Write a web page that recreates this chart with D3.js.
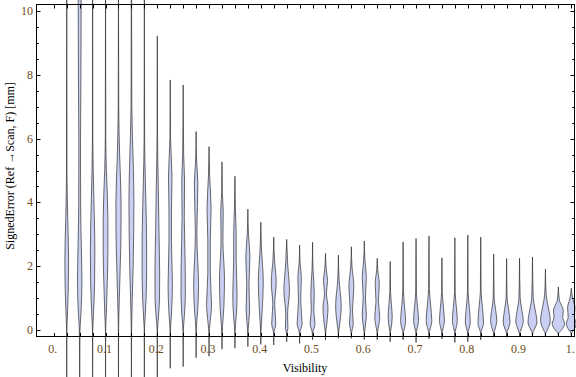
<!DOCTYPE html>
<html><head><meta charset="utf-8">
<script src="https://cdn.jsdelivr.net/npm/d3@7/dist/d3.min.js"></script>
<style>html,body{margin:0;padding:0;background:#fff;}svg{display:block;}</style>
</head><body><svg id="c" width="576" height="377"></svg>
<script>
// ---- data ----
const visibility = [0.025,0.05,0.075,0.1,0.125,0.15,0.175,0.2,0.225,0.25,
  0.275,0.3,0.325,0.35,0.375,0.4,0.425,0.45,0.475,0.5,
  0.525,0.55,0.575,0.6,0.625,0.65,0.675,0.7,0.725,0.75,
  0.775,0.8,0.825,0.85,0.875,0.9,0.925,0.95,0.975,1.0];
const maxError = [10.9,10.9,10.9,10.9,10.9,10.9,10.9,9.22,7.84,7.68,
  6.22,5.75,5.27,4.82,3.79,3.38,2.91,2.84,2.66,2.75,
  2.40,2.35,2.61,2.79,2.25,2.15,2.76,2.87,2.95,2.26,
  2.89,2.98,2.91,2.38,2.24,2.25,2.29,1.91,1.35,1.31];
const minError = [-1.6,-1.6,-1.6,-1.6,-1.6,-1.6,-1.6,-1.6,-1.2,-1.15,
  -0.87,-0.82,-0.6,-0.57,-0.52,-0.45,-0.47,-0.37,-0.42,-0.31,
  -0.31,-0.26,-0.26,-0.30,-0.31,-0.37,-0.31,-0.39,-0.28,-0.28,
  -0.39,-0.37,-0.31,-0.23,-0.23,-0.20,-0.20,-0.20,-0.18,-0.18];
// density profile knots [error, relative density] between max and min
const density = [
  [[5,0.03],[3.5,0.16],[2.2,0.3],[1.2,0.24],[0.3,0.08],[0,0.02]],
  [[10.9,0.25],[8,0.2],[6,0.14],[4,0.15],[2.5,0.28],[1.5,0.36],[0.5,0.2],[0,0.05]],
  [[6,0.03],[5,0.1],[3.5,0.28],[2.5,0.36],[1.5,0.32],[0.5,0.14],[0,0.02]],
  [[6,0.04],[5,0.14],[3.5,0.38],[2.5,0.38],[1.5,0.28],[0.5,0.12],[0,0.02]],
  [[7,0.04],[5.5,0.18],[4,0.42],[3,0.4],[2,0.28],[1,0.14],[0,0.02]],
  [[10.9,0.02],[7,0.06],[5,0.32],[4,0.4],[3,0.36],[2,0.28],[1,0.14],[0,0.03]],
  [[6,0.04],[4.5,0.18],[3,0.35],[2,0.37],[1,0.28],[0.3,0.1],[0,0.02]],
  [[6,0.04],[4.5,0.16],[3,0.28],[1.8,0.38],[1,0.36],[0.3,0.14],[0,0.03]],
  [[6,0.05],[4.8,0.28],[3.7,0.2],[2.8,0.2],[1.4,0.35],[0.5,0.2],[0,0.03]],
  [[5.5,0.08],[4.7,0.22],[3.5,0.18],[2,0.33],[1.1,0.35],[0.4,0.18],[0,0.03]],
  [[5.3,0.08],[4.6,0.28],[3.9,0.22],[3.0,0.12],[2.2,0.25],[1.4,0.4],[0.6,0.25],[0,0.03]],
  [[4.8,0.1],[3.8,0.33],[2.8,0.2],[1.8,0.2],[0.8,0.4],[0.2,0.15],[-0.1,0.02]],
  [[4.3,0.06],[3.7,0.2],[2.8,0.15],[1.6,0.4],[0.7,0.3],[0.1,0.08]],
  [[3.8,0.08],[3,0.2],[2.2,0.2],[1.1,0.35],[0.4,0.2],[0,0.03]],
  [[3,0.1],[2.3,0.33],[1.4,0.18],[0.6,0.28],[0,0.04]],
  [[2.6,0.1],[1.5,0.4],[0.6,0.22],[0,0.04]],
  [[2.2,0.12],[1.5,0.4],[0.8,0.15],[0.2,0.33],[-0.1,0.03]],
  [[2.1,0.15],[1.25,0.45],[0.5,0.15],[0.05,0.2],[-0.1,0.03]],
  [[2.1,0.08],[1.65,0.28],[0.9,0.18],[0.2,0.4],[-0.1,0.03]],
  [[1.9,0.08],[1.15,0.28],[0.6,0.2],[0.2,0.4],[-0.1,0.03]],
  [[1.9,0.12],[1.55,0.33],[1.15,0.15],[0.7,0.4],[0.1,0.15],[-0.1,0.02]],
  [[1.6,0.1],[0.75,0.45],[0.1,0.15],[-0.1,0.02]],
  [[2,0.1],[1.35,0.4],[0.6,0.18],[0.2,0.3],[-0.1,0.03]],
  [[2.2,0.1],[1.65,0.33],[1.0,0.18],[0.5,0.33],[0,0.08],[-0.1,0.02]],
  [[1.9,0.08],[1.45,0.33],[0.9,0.2],[0.4,0.4],[0,0.1],[-0.1,0.02]],
  [[1.2,0.06],[0.8,0.2],[0.4,0.33],[0,0.1],[-0.1,0.02]],
  [[1.3,0.05],[0.8,0.2],[0.3,0.4],[0,0.15],[-0.1,0.02]],
  [[1.2,0.06],[0.7,0.25],[0.3,0.4],[0,0.12],[-0.1,0.02]],
  [[1.3,0.06],[0.75,0.28],[0.3,0.45],[0,0.15],[-0.1,0.02]],
  [[1.2,0.05],[0.7,0.25],[0.3,0.4],[0,0.12],[-0.1,0.02]],
  [[1.2,0.05],[0.7,0.25],[0.3,0.4],[0,0.12],[-0.1,0.02]],
  [[1.2,0.05],[0.7,0.25],[0.25,0.4],[0,0.14],[-0.1,0.02]],
  [[1.2,0.06],[0.7,0.28],[0.2,0.45],[0,0.15],[-0.1,0.02]],
  [[1.0,0.08],[0.65,0.3],[0.3,0.5],[0,0.18],[-0.1,0.03]],
  [[1.0,0.08],[0.65,0.32],[0.25,0.55],[0,0.2],[-0.1,0.03]],
  [[1.0,0.1],[0.65,0.35],[0.28,0.6],[0,0.22],[-0.1,0.03]],
  [[1.0,0.12],[0.65,0.42],[0.25,0.72],[0,0.25],[-0.1,0.04]],
  [[1.1,0.12],[0.7,0.48],[0.3,0.78],[0,0.3],[-0.1,0.04]],
  [[0.95,0.15],[0.6,0.8],[0.4,0.7],[0.2,1.0],[0,0.5],[-0.1,0.05]],
  [[1.0,0.2],[0.7,0.6],[0.4,0.5],[0.2,0.8],[0,0.4],[-0.1,0.05]]
];
const yTickValues = [0,2,4,6,8,10];
const yTickLabels = ["0","2","4","6","8","10"];
const xLabelValues = [0,0.1,0.2,0.3,0.4,0.5,0.6,0.7,0.8,0.9,1.0];
const xLabelTexts = ["0.","0.1","0.2","0.3","0.4","0.5","0.6","0.7","0.8","0.9","1."];
const xTitle = "Visibility";
const yTitle = "SignedError (Ref \u2192Scan, F) [mm]";

// ---- layout ----
const frame = {left:36, right:575, top:4, bottom:337};
const svg = d3.select("#c");
const x = d3.scaleLinear().domain([0,1]).range([53.8,571.3]);
const y = d3.scaleLinear().domain([0,10]).range([330,11]);
const w = d3.scaleLinear().domain([0,1]).range([0,6.2]);
const labelColor = "#6e4c1a";
const font = "'Liberation Serif','Times New Roman',serif";

// violins
const gV = svg.append("g");
visibility.forEach((v,i)=>{
  const pts = [[maxError[i],0], ...density[i], [minError[i],0]];
  const cx = x(v);
  const area = d3.area()
    .curve(d3.curveMonotoneY)
    .y(p=>y(p[0]))
    .x0(p=>cx - w(p[1]))
    .x1(p=>cx + w(p[1]));
  gV.append("path").attr("d", area(pts))
    .attr("fill","#c9d0f3")
    .attr("stroke","#333").attr("stroke-opacity",0.8)
    .attr("stroke-width",0.9);
});

// frame
const gF = svg.append("g").attr("stroke","#000").attr("stroke-width",1).attr("fill","none");
gF.append("rect").attr("x",frame.left+0.5).attr("y",frame.top+0.5)
  .attr("width",frame.right-frame.left-1).attr("height",frame.bottom-frame.top-1);

// y ticks (major & minor) left and right
const yMinor = d3.range(0, 10.01, 0.5);
yMinor.forEach(t=>{
  const major = yTickValues.includes(t);
  const len = major ? 4.5 : 2.8;
  const yy = Math.round(y(t))+0.5;
  gF.append("line").attr("x1",frame.left).attr("x2",frame.left+len).attr("y1",yy).attr("y2",yy);
  gF.append("line").attr("x1",frame.right).attr("x2",frame.right-len).attr("y1",yy).attr("y2",yy);
});
// x ticks top & bottom at each category plus zero
[0, ...visibility].forEach(v=>{
  const xx = Math.round(x(v))+0.5;
  gF.append("line").attr("x1",xx).attr("x2",xx).attr("y1",frame.bottom).attr("y2",frame.bottom-4);
  gF.append("line").attr("x1",xx).attr("x2",xx).attr("y1",frame.top).attr("y2",frame.top+4.5);
});

// labels
const gT = svg.append("g").attr("font-family",font).attr("font-size",12);
yTickValues.forEach((t,i)=>{
  gT.append("text").attr("x",33).attr("y",y(t)+4).attr("text-anchor","end")
    .attr("fill",labelColor).text(yTickLabels[i]);
});
xLabelValues.forEach((t,i)=>{
  gT.append("text").attr("x",x(t)-1).attr("y",353).attr("text-anchor","middle")
    .attr("fill",labelColor).text(xLabelTexts[i]);
});
gT.append("text").attr("x",305).attr("y",372).attr("text-anchor","middle").attr("fill","#000").text(xTitle);
gT.append("text").attr("transform","translate(14,166) rotate(-90)").attr("text-anchor","middle")
  .attr("fill","#000").text(yTitle);
</script></body></html>
